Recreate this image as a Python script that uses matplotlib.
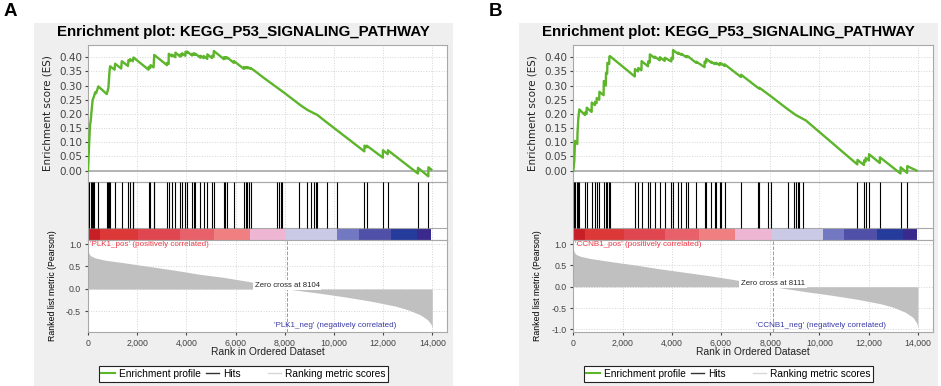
import matplotlib
matplotlib.use("Agg")
import matplotlib.pyplot as plt
from matplotlib.lines import Line2D
from matplotlib.patches import Rectangle
from matplotlib.ticker import FuncFormatter

plt.rcParams["axes.unicode_minus"] = False

# =========================
# DATA
# =========================
TITLE = "Enrichment plot: KEGG_P53_SIGNALING_PATHWAY"

# running enrichment score, panel A (PLK1)
es_rank_a = [0, 14, 54, 82, 109, 150, 190, 245, 290, 330, 422, 762, 800, 830, 871, 898,
             1080, 1102, 1350, 1374, 1625, 1646, 1700, 1714, 1823, 1850, 2462, 2470, 2530,
             2545, 2666, 2680, 2694, 3210, 3215, 3278, 3285, 3414, 3420, 3551, 3556, 3754,
             3760, 3822, 3828, 3959, 3965, 4026, 4032, 4231, 4236, 4298, 4304, 4366, 4372,
             4571, 4576, 4700, 4705, 4850, 4855, 4979, 5046, 5050, 5110, 5116, 5388, 5524,
             5530, 5590, 5596, 5658, 5664, 5932, 5940, 6204, 6338, 6343, 6406, 6411, 6474,
             6480, 6542, 6548, 6610, 6616, 6884, 7088, 7973, 8653, 8925, 9333, 9741, 11238,
             11245, 11330, 11338, 11990, 11995, 12190, 12196, 13415, 13420, 13840, 13846, 13960]
es_val_a = [0.000, 0.030, 0.110, 0.160, 0.175, 0.215, 0.250, 0.262, 0.276, 0.273, 0.297, 0.270,
            0.282, 0.292, 0.345, 0.368, 0.356, 0.377, 0.360, 0.386, 0.369, 0.390, 0.386, 0.393,
            0.386, 0.399, 0.356, 0.366, 0.362, 0.372, 0.364, 0.386, 0.408, 0.372, 0.380, 0.376,
            0.412, 0.403, 0.409, 0.400, 0.416, 0.402, 0.410, 0.406, 0.414, 0.405, 0.419, 0.415,
            0.420, 0.406, 0.412, 0.408, 0.414, 0.409, 0.412, 0.398, 0.405, 0.397, 0.404, 0.394,
            0.410, 0.401, 0.397, 0.405, 0.402, 0.422, 0.403, 0.393, 0.400, 0.395, 0.400, 0.396,
            0.399, 0.380, 0.386, 0.368, 0.359, 0.365, 0.361, 0.365, 0.361, 0.365, 0.361, 0.363,
            0.359, 0.362, 0.345, 0.331, 0.275, 0.230, 0.214, 0.196, 0.168, 0.068, 0.088, 0.082,
            0.088, 0.046, 0.072, 0.058, 0.072, -0.010, 0.010, -0.020, 0.012, 0.004]

# running enrichment score, panel B (CCNB1)
es_rank_b = [0, 42, 69, 163, 170, 204, 245, 474, 480, 540, 545, 677, 744, 750, 878, 885, 945,
             950, 1053, 1060, 1230, 1240, 1320, 1330, 1377, 1385, 1458, 1465, 1485, 2497, 2505,
             2632, 2640, 2767, 2775, 3036, 3042, 3104, 3110, 3306, 3312, 3509, 3515, 3711, 3717,
             3981, 3988, 4045, 4051, 4253, 4258, 4388, 4393, 4588, 4594, 4655, 4660, 4993, 4999,
             5330, 5336, 5397, 5403, 5599, 5605, 5734, 5740, 5802, 5808, 5937, 5943, 6004, 6010,
             6139, 6145, 6814, 6820, 7489, 7557, 7562, 8029, 8703, 9041, 9447, 11537, 11545,
             11807, 11812, 11874, 11880, 12009, 12015, 12450, 12458, 13291, 13297, 13561, 13567,
             13950]
es_val_b = [0.000, 0.035, 0.105, 0.094, 0.130, 0.184, 0.216, 0.196, 0.205, 0.200, 0.222, 0.212,
            0.207, 0.240, 0.231, 0.242, 0.238, 0.256, 0.250, 0.278, 0.266, 0.316, 0.300, 0.345,
            0.342, 0.380, 0.376, 0.402, 0.404, 0.332, 0.358, 0.350, 0.362, 0.354, 0.386, 0.368,
            0.385, 0.381, 0.410, 0.397, 0.402, 0.389, 0.400, 0.387, 0.398, 0.385, 0.398, 0.394,
            0.425, 0.412, 0.416, 0.408, 0.412, 0.400, 0.404, 0.400, 0.403, 0.380, 0.384, 0.365,
            0.385, 0.381, 0.394, 0.381, 0.384, 0.376, 0.380, 0.376, 0.380, 0.372, 0.379, 0.375,
            0.378, 0.369, 0.375, 0.330, 0.338, 0.293, 0.289, 0.292, 0.262, 0.217, 0.196, 0.177,
            0.022, 0.038, 0.020, 0.036, 0.032, 0.045, 0.036, 0.058, 0.027, 0.047, -0.010, 0.012,
            -0.008, 0.016, 0.000]

# hit positions (gene set members in the ranked list)
hits_a = [54, 109, 150, 190, 245, 422, 762, 830, 871, 898, 1102, 1374, 1646, 1714, 1823, 1850,
          2462, 2530, 2666, 2694, 3210, 3278, 3414, 3551, 3754, 3822, 3959, 4026, 4231, 4298,
          4366, 4571, 4705, 4855, 5046, 5116, 5530, 5590, 5658, 5940, 6338, 6406, 6474, 6542,
          6610, 7698, 7766, 7834, 7902, 8582, 8922, 9058, 9194, 9262, 9330, 9738, 10146, 11238,
          11330, 11990, 12190, 13415, 13840]
hits_b = [42, 69, 163, 204, 245, 480, 545, 750, 885, 950, 1060, 1240, 1330, 1385, 1465, 1485,
          2505, 2640, 2775, 3042, 3110, 3312, 3515, 3717, 3988, 4051, 4258, 4393, 4594, 4660,
          4999, 5336, 5403, 5605, 5740, 5808, 5943, 6010, 6145, 6820, 7489, 7562, 7894, 8029,
          8703, 8973, 9046, 9108, 9176, 9311, 11543, 11812, 11880, 12015, 12458, 13297, 13567]

# ranked list metric (Pearson)
metric_rank_a = [0, 30, 100, 300, 700, 1500, 2500, 3500, 4500, 5500, 6500, 7300, 8104,
                 8800, 9500, 10500, 11500, 12500, 13000, 13500, 13800, 13950, 14000]
metric_val_a = [0.87, 0.80, 0.74, 0.69, 0.64, 0.58, 0.50, 0.42, 0.33, 0.26, 0.17, 0.09, 0.0,
                -0.05, -0.10, -0.18, -0.27, -0.38, -0.46, -0.57, -0.68, -0.78, -0.87]
metric_rank_b = [0, 30, 100, 300, 700, 1500, 2500, 3500, 4500, 5500, 6500, 7300, 8111,
                 8800, 9500, 10500, 11500, 12500, 13000, 13500, 13800, 13950, 14000]
metric_val_b = [0.88, 0.82, 0.76, 0.71, 0.66, 0.59, 0.51, 0.42, 0.34, 0.26, 0.17, 0.09, 0.0,
                -0.06, -0.12, -0.20, -0.29, -0.40, -0.48, -0.60, -0.72, -0.85, -0.95]

zero_cross_a = 8104
zero_cross_b = 8111

# heat bar under the hits
bar_edges = [0, 480, 2040, 3730, 5120, 6580, 8070, 10130, 11010, 12330, 13380, 13950]
bar_colors = ["#c81e26", "#dc3838", "#e04650", "#e8606a", "#ef7f80", "#efb6d4",
              "#cacae6", "#7278c2", "#5050a8", "#263c9c", "#3a2a8e"]

metric_ticks_a = [-0.5, 0.0, 0.5, 1.0]
metric_ticks_b = [-1.0, -0.5, 0.0, 0.5, 1.0]

# =========================
# LAYOUT (pixels)
# =========================
W, H = 941, 386
GREEN = "#5db52b"
GRID = dict(color="#d4d4d4", linestyle=":", linewidth=0.7)
ARIAL = "Liberation Sans"


def fx(px):
    return px / W


def fy(py):
    return 1 - py / H


def draw_panel(fig, letter, gene, left, right, pleft, pright,
               es_rank, es_val, hits, m_rank, m_val, zc, m_ticks, m_ylim):
    # grey frame behind the whole panel
    fig.add_artist(Rectangle((fx(pleft), 0), fx(pright) - fx(pleft), fy(23),
                             transform=fig.transFigure, fc="#efefef", ec="none", zorder=-1))
    fig.text(fx(pleft - 30), fy(3), letter, fontsize=13.5, fontweight="bold",
             family=ARIAL, va="top", ha="left")
    fig.text(fx((pleft + pright) / 2), fy(32), TITLE, fontsize=10.8, fontweight="bold",
             family=ARIAL, ha="center", va="center")

    w = fx(right) - fx(left)
    xticks = list(range(0, 14001, 2000))
    xlim = (0, 14600)

    # ---- enrichment score ----
    ax1 = fig.add_axes([fx(left), fy(182), w, fy(45) - fy(182)])
    ax1.set_axisbelow(True)
    ax1.plot(es_rank, es_val, color=GREEN, lw=1.7, zorder=3)
    ax1.axhline(0, color="#a8a8a8", lw=1.2, zorder=2)
    ax1.set_xlim(*xlim)
    ax1.set_ylim(-0.04, 0.443)
    ax1.set_xticks(xticks)
    ax1.set_yticks([i * 0.05 for i in range(9)])
    ax1.yaxis.set_major_formatter(FuncFormatter(lambda v, p: f"{v:.2f}"))
    ax1.tick_params(axis="x", length=0, labelbottom=False)
    ax1.tick_params(axis="y", length=2, pad=2, labelsize=7.5, colors="#444444")
    ax1.grid(True, **GRID)
    ax1.set_ylabel("Enrichment score (ES)", fontsize=7.5, color="#222222")
    ax1.yaxis.set_label_coords(-0.10, 0.5)

    # ---- hits + heat bar ----
    ax2 = fig.add_axes([fx(left), fy(240), w, fy(182) - fy(240)])
    ax2.set_xlim(*xlim)
    ax2.set_ylim(0, 1)
    bar_h = 12 / 58
    ax2.set_xticks(xticks)
    ax2.grid(True, axis="x", **GRID)
    ax2.tick_params(length=0, labelbottom=False, labelleft=False)
    ax2.set_yticks([])
    for x0, x1, c in zip(bar_edges[:-1], bar_edges[1:], bar_colors):
        ax2.add_patch(Rectangle((x0, 0), x1 - x0, bar_h, fc=c, ec="none", zorder=2))
    ax2.axhline(bar_h, color="#a8a8a8", lw=0.8, zorder=3)
    ax2.axhline(0.995, color="#a8a8a8", lw=0.8, zorder=3)
    ax2.vlines(hits, bar_h, 1, color="black", lw=0.8, zorder=3)

    # ---- ranked list metric ----
    ax3 = fig.add_axes([fx(left), fy(332), w, fy(240) - fy(332)])
    ax3.set_axisbelow(True)
    ax3.fill_between(m_rank, m_val, 0, color="#c0c0c0", lw=0, zorder=2)
    ax3.axvline(zc, color="#9a9a9a", ls="--", lw=0.7, zorder=3)
    ax3.set_xlim(*xlim)
    ax3.set_ylim(*m_ylim)
    ax3.set_xticks(xticks)
    ax3.xaxis.set_major_formatter(FuncFormatter(lambda v, p: f"{int(v):,}"))
    ax3.set_yticks(m_ticks)
    ax3.yaxis.set_major_formatter(FuncFormatter(lambda v, p: f"{v:.1f}"))
    ax3.tick_params(length=2, pad=3, labelsize=6.3, colors="#444444")
    for lab in ax3.get_xticklabels() + ax3.get_yticklabels():
        lab.set_family(ARIAL)
    ax3.grid(True, **GRID)
    ax3.set_ylabel("Ranked list metric (Pearson)", fontsize=6.3, family=ARIAL)
    ax3.yaxis.set_label_coords(-0.086, 0.5)
    ax3.text(0.006, 0.99, f"'{gene}_pos' (positively correlated)", transform=ax3.transAxes,
             color="#f03a46", fontsize=5.8, family=ARIAL, va="top", ha="left")
    ax3.text(10060, 0.076, f"'{gene}_neg' (negatively correlated)",
             transform=ax3.get_xaxis_transform(), color="#3a3aa8", fontsize=5.8,
             family=ARIAL, va="center", ha="center")
    ax3.text(zc, 0.08, f"Zero cross at {zc}", fontsize=5.6, family=ARIAL, ha="center",
             va="center", color="#222222", zorder=4,
             bbox=dict(boxstyle="square,pad=0.2", fc="white", ec="none"))

    for ax in (ax1, ax2, ax3):
        for s in ax.spines.values():
            s.set_color("#a8a8a8")
            s.set_linewidth(0.8)

    fig.text(fx((left + right) / 2), fy(352), "Rank in Ordered Dataset", fontsize=7.4,
             family=ARIAL, ha="center", va="center", color="#222222")

    handles = [Line2D([], [], color=GREEN, lw=1.5),
               Line2D([], [], color="#333333", lw=1.0),
               Line2D([], [], color="white", lw=1.0),
               Line2D([], [], color="#d8d8d8", lw=1.0)]
    labels = ["Enrichment profile", "Hits", "", "Ranking metric scores"]
    leg = fig.legend(handles, labels, loc="center",
                     bbox_to_anchor=(fx((pleft + pright) / 2), fy(374)), ncol=4,
                     frameon=True, fancybox=False, edgecolor="#222222", framealpha=1,
                     prop={"family": ARIAL, "size": 7.3}, handlelength=1.3,
                     handletextpad=0.4, columnspacing=0.5, borderpad=0.25)
    leg.get_frame().set_linewidth(0.8)


# =========================
# MAIN
# =========================
def main():
    fig = plt.figure(figsize=(W / 100, H / 100), dpi=100)
    draw_panel(fig, "A", "PLK1", 88, 447, 34, 453,
               es_rank_a, es_val_a, hits_a, metric_rank_a, metric_val_a,
               zero_cross_a, metric_ticks_a, (-0.956, 1.089))
    draw_panel(fig, "B", "CCNB1", 573.3, 932.7, 519, 938,
               es_rank_b, es_val_b, hits_b, metric_rank_b, metric_val_b,
               zero_cross_b, metric_ticks_b, (-1.06, 1.094))
    fig.savefig("out.png", dpi=100)
    plt.close(fig)


if __name__ == "__main__":
    main()
